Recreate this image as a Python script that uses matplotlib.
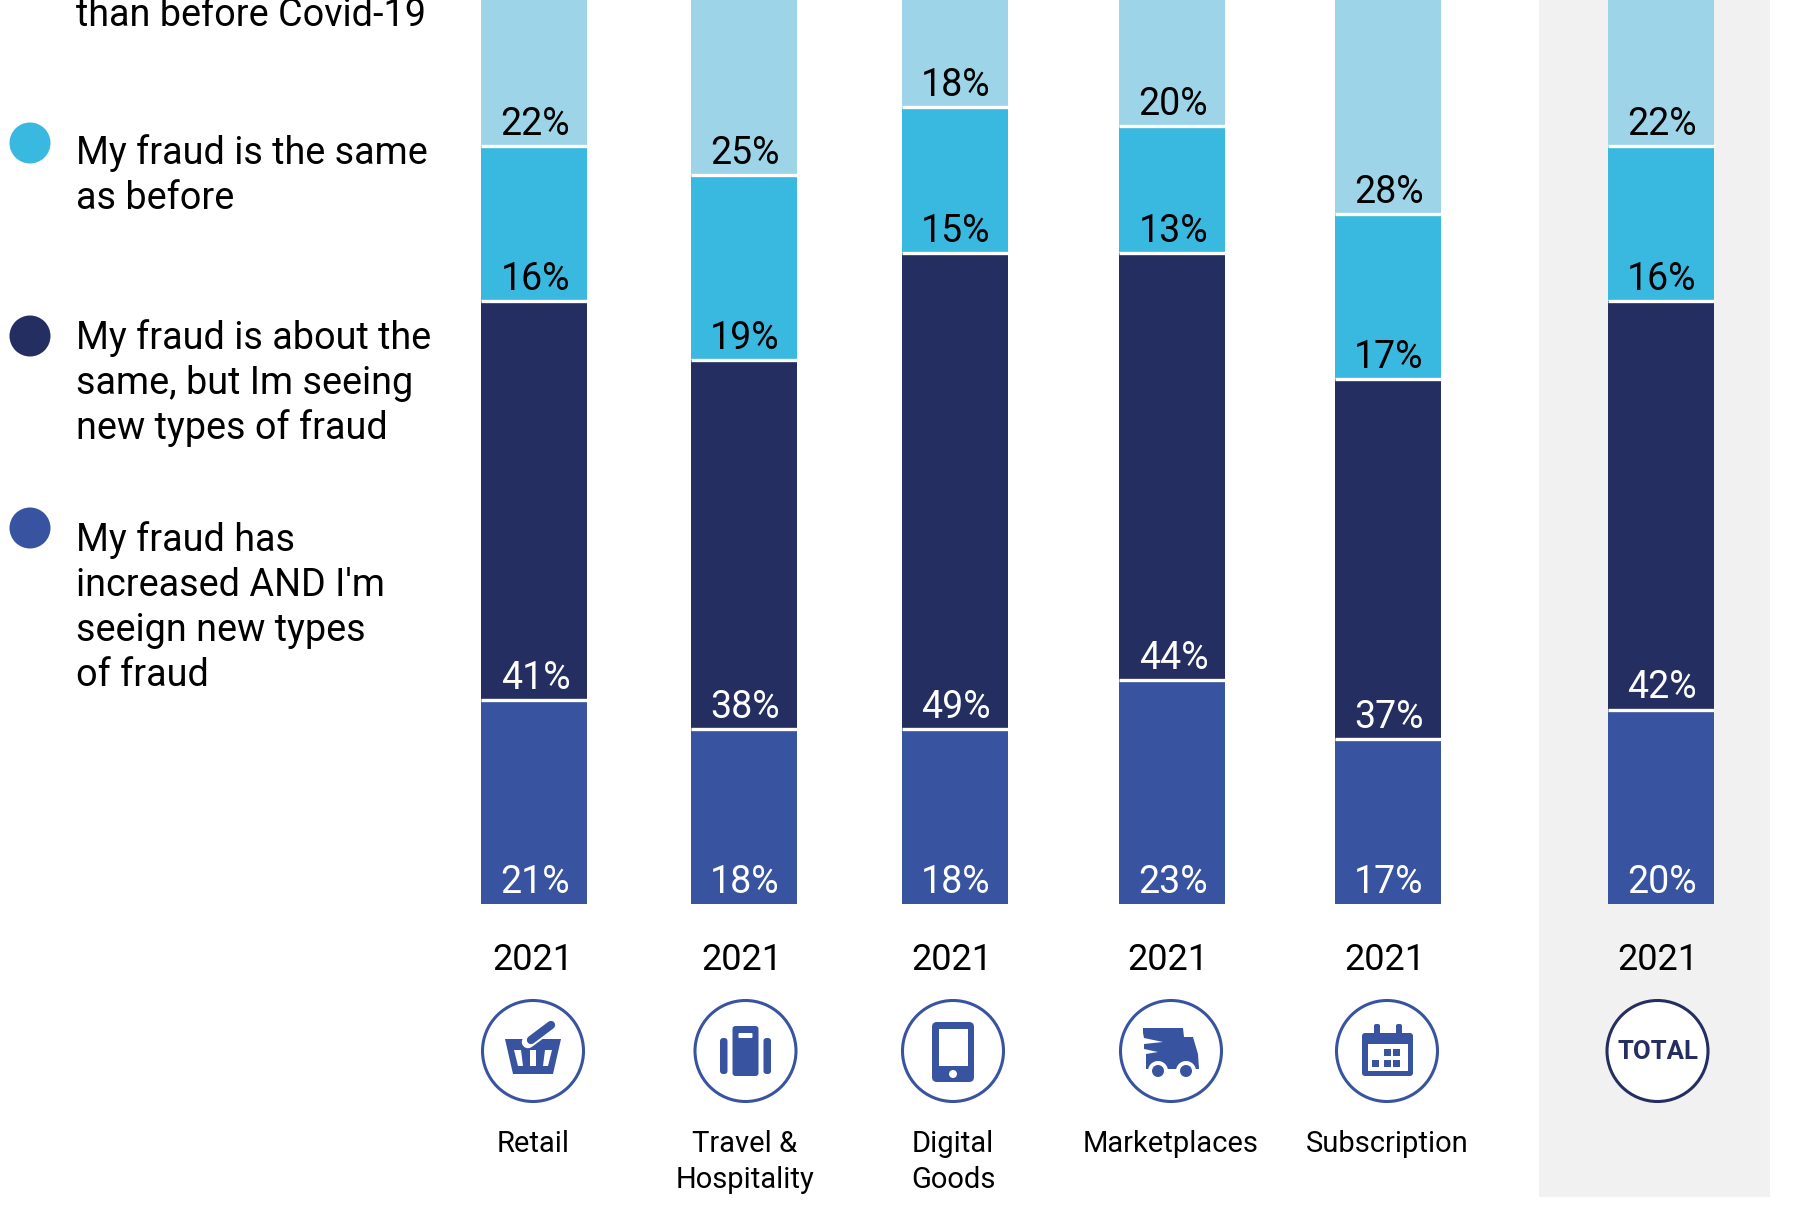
import matplotlib
matplotlib.use('Agg')
import matplotlib.pyplot as plt
from matplotlib.patches import Circle, FancyBboxPatch, Polygon, Rectangle
import numpy as np

# Survey answers per vertical, in percent, bottom segment first
categories = ['Retail', 'Travel &\nHospitality', 'Digital\nGoods', 'Marketplaces', 'Subscription', '']
years = ['2021', '2021', '2021', '2021', '2021', '2021']
increased_new = [21, 18, 18, 23, 17, 20]
same_new_types = [41, 38, 49, 44, 37, 42]
same = [16, 19, 15, 13, 17, 16]
lower = [22, 25, 18, 20, 28, 22]

legend_lines = [
    ['than before Covid-19'],
    ['My fraud is the same', 'as before'],
    ['My fraud is about the', 'same, but Im seeing', 'new types of fraud'],
    ['My fraud has', "increased AND I'm", 'seeign new types', 'of fraud'],
]

LIGHT = '#9DD4E8'
CYAN = '#39B9E0'
NAVY = '#252E60'
BLUE = '#3854A0'
GREY = '#F1F1F1'

W, H = 1796, 1208
BASE_Y = 904
PX_PER_PCT = 9.72
BAR_W = 106

bar_x = [534, 743.5, 954.5, 1172, 1387.5, 1660.5]
year_x = [533, 742, 952, 1168, 1385, 1658]
icon_x = [533, 745.5, 953, 1171, 1387, 1657.5]
label_x = [533, 745, 953, 1170.5, 1387]
ICON_Y = 1051
ICON_R = 50.5

plt.rcParams['font.family'] = ['Roboto', 'DejaVu Sans']

fig = plt.figure(figsize=(W / 100, H / 100), dpi=100)

# Grey band sits behind the total column
bg = fig.add_axes([0, 0, 1, 1])
bg.set_xlim(0, W)
bg.set_ylim(H, 0)
bg.axis('off')
bg.add_patch(Rectangle((1539, 0), 231, 1197, color=GREY, lw=0))

# Stacked bars on a percent scale
ax = fig.add_axes([0, 0, 1, 1])
ax.patch.set_alpha(0)
ax.set_xlim(0, W)
ax.set_ylim(-(H - BASE_Y) / PX_PER_PCT, BASE_Y / PX_PER_PCT)
ax.axis('off')

series = [
    (increased_new, BLUE, 'white'),
    (same_new_types, NAVY, 'white'),
    (same, CYAN, 'black'),
    (lower, LIGHT, 'black'),
]
bottom = np.zeros(len(bar_x))
for i, (vals, color, txt) in enumerate(series):
    vals = np.array(vals, dtype=float)
    ax.bar(bar_x, vals, width=BAR_W, bottom=bottom, color=color, linewidth=0)
    for x, v, b in zip(bar_x, vals, bottom):
        ax.annotate(f'{v:.0f}%', xy=(x + 1.5, b), xytext=(0, 8), textcoords='offset points',
                    ha='center', va='baseline', fontsize=27, color=txt)
    bottom = bottom + vals
    # white rule on top of each segment
    if i < len(series) - 1:
        for x, top in zip(bar_x, bottom):
            ax.plot([x - BAR_W / 2, x + BAR_W / 2], [top, top], color='white', lw=2.4,
                    solid_capstyle='butt')

# Everything else is laid out in pixels with y pointing down
ov = fig.add_axes([0, 0, 1, 1])
ov.patch.set_alpha(0)
ov.set_xlim(0, W)
ov.set_ylim(H, 0)
ov.axis('off')

# Legend
dot_y = [143, 336, 528]
dot_colors = [CYAN, NAVY, BLUE]
for y, c in zip(dot_y, dot_colors):
    ov.add_patch(Circle((30, y), 20.5, color=c, lw=0))

first_baseline = [26, 164, 349, 551]
for lines, y0 in zip(legend_lines, first_baseline):
    for j, line in enumerate(lines):
        ov.text(76.5, y0 + j * 45, line, fontsize=27.2, va='baseline', ha='left', color='black')

for x, yr in zip(year_x, years):
    ov.text(x, 970, yr, fontsize=26, ha='center', va='baseline', color='black')

for x, cat in zip(label_x, categories):
    for j, line in enumerate(cat.split('\n')):
        ov.text(x, 1152 + j * 36, line, fontsize=21, ha='center', va='baseline', color='black')


def poly(pts, cx, color=BLUE):
    ov.add_patch(Polygon([(cx + px, ICON_Y + py) for px, py in pts], closed=True, color=color, lw=0))


def rbox(cx, x0, y0, w, h, color=BLUE, r=3):
    ov.add_patch(FancyBboxPatch((cx + x0 + r, ICON_Y + y0 + r), w - 2 * r, h - 2 * r,
                                boxstyle=f'round,pad={r}', color=color, lw=0))


def basket(cx):
    poly([(-28, -12), (28, -12), (20, 23), (-20, 23)], cx)
    for pts in ([(-19, -1), (-12, -1), (-10, 15), (-15, 15)],
                [(-3, -1), (3, -1), (3, 15), (-3, 15)],
                [(12, -1), (19, -1), (15, 15), (10, 15)]):
        poly(pts, cx, 'white')
    ov.plot([cx - 5, cx + 18], [ICON_Y - 9, ICON_Y - 26], color='white', lw=9, solid_capstyle='round')
    ov.plot([cx - 2, cx + 18], [ICON_Y - 11, ICON_Y - 26], color=BLUE, lw=6, solid_capstyle='round')


def suitcase(cx):
    rbox(cx, -13, -25, 26, 50)
    rbox(cx, -25.5, -13, 7.5, 36)
    rbox(cx, 18, -13, 7.5, 36)
    rbox(cx, -7, -18, 14, 5, 'white', 1)


def phone(cx):
    rbox(cx, -21, -29, 42, 60, r=5)
    ov.add_patch(Rectangle((cx - 14.5, ICON_Y - 22), 29, 37, color='white', lw=0))
    ov.add_patch(Circle((cx, ICON_Y + 23), 4, color='white', lw=0))


def truck(cx):
    poly([(-28, -23), (12, -23), (13, -14), (22, -14), (27, 3), (28, 18), (-25, 18),
          (-25, 3), (-13, 1), (-27, -2), (-27, -7), (-8, -9), (-27, -13), (-28, -18)], cx)
    for dx in (-13, 15):
        ov.add_patch(Circle((cx + dx, ICON_Y + 20), 10, color='white', lw=0))
        ov.add_patch(Circle((cx + dx, ICON_Y + 20), 6, color=BLUE, lw=0))


def calendar(cx):
    rbox(cx, -25, -18, 51, 43)
    rbox(cx, -13, -27, 6, 14, r=2)
    rbox(cx, 9, -27, 6, 14, r=2)
    ov.add_patch(Rectangle((cx - 19.5, ICON_Y - 7), 40, 27, color='white', lw=0))
    squares = [(-3, -2), (6, -2), (-15, 9), (-3, 9), (6, 9)]
    for sx, sy in squares:
        ov.add_patch(Rectangle((cx + sx, ICON_Y + sy), 7, 7, color=BLUE, lw=0))


icon_funcs = [basket, suitcase, phone, truck, calendar]
for i, x in enumerate(icon_x):
    edge = NAVY if i == 5 else BLUE
    ov.add_patch(Circle((x, ICON_Y), ICON_R, facecolor='white', edgecolor=edge, lw=2.2))
    if i < 5:
        icon_funcs[i](x)
ov.text(icon_x[5], ICON_Y + 1, 'TOTAL', fontsize=18.5, fontweight='bold', color=NAVY, ha='center', va='center')

fig.savefig('out.png', dpi=100)
